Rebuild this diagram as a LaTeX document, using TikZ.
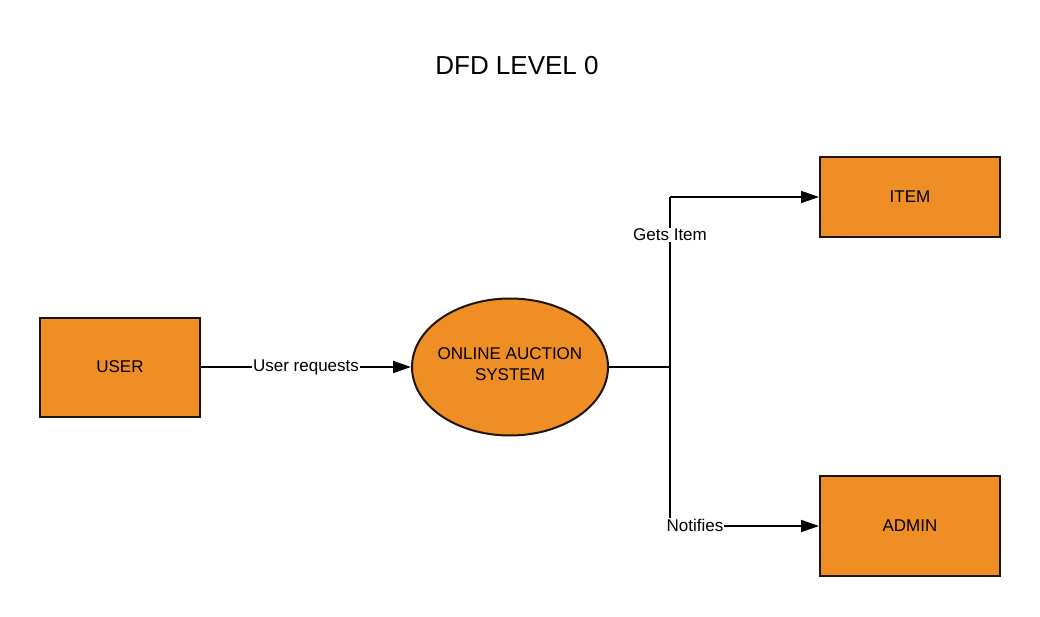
\documentclass[tikz,border=0pt]{standalone}
\usepackage{fontspec}
\setmainfont{Liberation Sans}
\usetikzlibrary{arrows.meta,shapes.geometric}
\definecolor{boxfill}{HTML}{EF8E24}
\definecolor{boxline}{HTML}{1E140A}
\begin{document}
\begin{tikzpicture}[x=1pt,y=-1pt,
  entity/.style={draw=boxline,line width=2pt,fill=boxfill,inner sep=0pt,font=\fontsize{17}{20}\selectfont},
  proc/.style={ellipse,draw=boxline,line width=2pt,fill=boxfill,inner sep=0pt,align=center,font=\fontsize{17}{21}\selectfont},
  flow/.style={line width=1.8pt,-{Triangle[length=18pt,width=12pt]}},
  plain/.style={line width=1.8pt},
  lbl/.style={fill=white,inner sep=1pt,font=\fontsize{17}{20}\selectfont}]
\useasboundingbox[fill=white] (0,0) rectangle (1040,617);
\node[font=\fontsize{26}{30}\selectfont] (title) at (517,66) {DFD LEVEL 0};
\node[entity,minimum width=160pt,minimum height=99pt] (user) at (120,367) {USER};
\node[proc,minimum width=196pt,minimum height=137pt] (sys) at (510,367) {};
\node[align=center,font=\fontsize{17}{21}\selectfont,inner sep=0pt] (systxt) at (510,364.5) {ONLINE AUCTION\\SYSTEM};
\node[entity,minimum width=180pt,minimum height=80pt] (item) at (910,197) {ITEM};
\node[entity,minimum width=180pt,minimum height=100pt] (admin) at (910,526) {ADMIN};
\coordinate (j) at (670,367);
\coordinate (jt) at (670,197);
\coordinate (jb) at (670,526);
\draw[flow] (user.east) -- node[lbl,pos=0.5] (l1) {User requests} (sys.west);
\draw[plain] (sys.east) -- (j);
\draw[plain] (jb) -- (jt);
\draw[flow] (jt) -- (item.west);
\draw[flow] (jb) -- (admin.west);
\node[lbl] (l2) at (670,235) {Gets Item};
\node[lbl] (l3) at (695,525) {Notifies};
\end{tikzpicture}
\end{document}
